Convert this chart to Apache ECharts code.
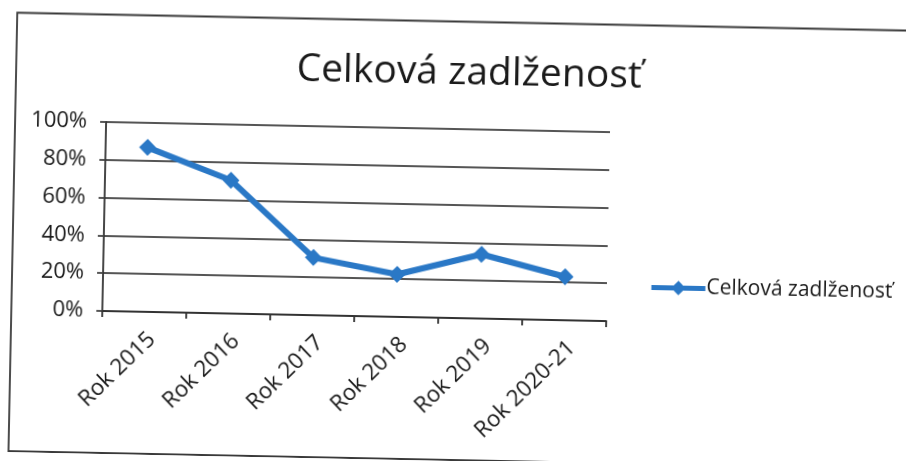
<!DOCTYPE html>
<html>
<head>
<meta charset="utf-8">
<script src="https://cdn.jsdelivr.net/npm/echarts@6/dist/echarts.min.js"></script>
<style>
  html, body { margin: 0; padding: 0; background: #ffffff; overflow: hidden; }
  #chart { width: 906px; height: 461px; transform: rotate(1.15deg); transform-origin: 453px 230.5px; }
</style>
</head>
<body>
<div id="chart"></div>
<script>
const titleText = 'Celková zadlženosť';
const seriesName = 'Celková zadlženosť';
const categories = ['Rok 2015', 'Rok 2016', 'Rok 2017', 'Rok 2018', 'Rok 2019', 'Rok 2020-21'];
const values = [0.87, 0.705, 0.305, 0.225, 0.34, 0.23];
const yMin = 0, yMax = 1, yStep = 0.2;

const FONT = '"Open Sans", sans-serif';
const BLUE = '#2a78c6';
const chart = echarts.init(document.getElementById('chart'), null, { renderer: 'canvas' });
chart.setOption({
  backgroundColor: 'transparent',
  animation: false,
  title: {
    text: titleText,
    left: 461,
    top: 48,
    textAlign: 'center',
    textStyle: { fontFamily: FONT, fontSize: 39, fontWeight: 'normal', color: '#1a1a1a' }
  },
  graphic: [{
    type: 'rect',
    shape: { x: 13, y: 21.5, width: 1000, height: 438.5 },
    style: { fill: 'none', stroke: '#3a3a3a', lineWidth: 1.8 },
    silent: true,
    z: -1
  }],
  legend: {
    left: 645,
    top: 268,
    itemWidth: 54,
    itemHeight: 18,
    itemGap: 4,
    lineStyle: { width: 5, color: BLUE },
    itemStyle: { color: BLUE },
    textStyle: { fontFamily: FONT, fontSize: 21, color: '#1a1a1a', padding: [0, 0, 0, -4] },
    data: [seriesName]
  },
  grid: { left: 104, right: 298, top: 129, bottom: 143 },
  xAxis: {
    type: 'category',
    data: categories,
    boundaryGap: true,
    axisLine: { lineStyle: { color: '#333333', width: 1.8 } },
    axisTick: { show: true, length: 6, lineStyle: { color: '#333333', width: 1.8 } },
    axisLabel: {
      rotate: 45, fontFamily: FONT, fontSize: 22.5, color: '#1a1a1a',
      margin: 16, interval: 0, verticalAlign: 'top'
    }
  },
  yAxis: {
    type: 'value',
    min: yMin,
    max: yMax,
    interval: yStep,
    axisLine: { show: true, lineStyle: { color: '#333333', width: 1.8 } },
    axisTick: { show: true, length: 6, lineStyle: { color: '#444444', width: 1.8 } },
    axisLabel: {
      fontFamily: FONT, fontSize: 22, color: '#1a1a1a', margin: 19,
      formatter: v => Math.round(v * 100) + '%'
    },
    splitLine: { show: true, lineStyle: { color: '#555555', width: 1.8 } }
  },
  series: [{
    name: seriesName,
    type: 'line',
    data: values,
    symbol: 'diamond',
    symbolSize: 17,
    lineStyle: { color: BLUE, width: 6 },
    itemStyle: { color: BLUE }
  }]
});
</script>
</body>
</html>
